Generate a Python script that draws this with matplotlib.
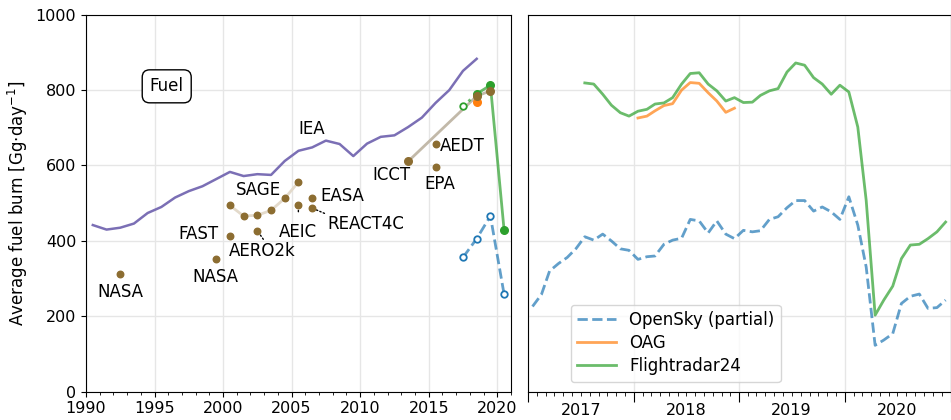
import matplotlib
matplotlib.use('Agg')
import matplotlib.pyplot as plt
import matplotlib.dates as mdates
from matplotlib.ticker import MultipleLocator, FuncFormatter
import numpy as np
import pandas as pd

plt.rcParams['font.size'] = 12
plt.rcParams['xtick.labelsize'] = 11.5
plt.rcParams['ytick.labelsize'] = 11.5

# ---- left panel: annual estimates ----
iea_years = np.arange(1990, 2019) + 0.5
iea_fuel = [442, 430, 435, 446, 474, 490, 515, 532, 545, 564, 583, 572, 577, 575,
            612, 639, 648, 666, 657, 625, 658, 676, 680, 702, 727, 766, 800, 851, 883]

sage_years = [2000.5, 2001.5, 2002.5, 2003.5, 2004.5, 2005.5]
sage_fuel = [494, 466, 468, 481, 513, 556]

icct_years = [2013.5, 2018.5, 2019.5]
icct_fuel = [611, 784, 798]

# single inventories: name, year, value
inv_names = ['NASA', 'NASA', 'FAST', 'AERO2k', 'AEIC', 'EASA', 'REACT4C', 'AEDT', 'EPA']
inv_years = [1992.5, 1999.5, 2000.5, 2002.5, 2005.5, 2006.5, 2006.5, 2015.5, 2015.5]
inv_fuel = [311, 351, 414, 427, 496, 514, 487, 657, 597]

fr24_years = [2017.5, 2018.5, 2019.5, 2020.5]
fr24_annual = [757, 790, 813, 428]
oag_year = [2018.5]
oag_annual = [768]
osky_years = [2017.5, 2018.5, 2019.5, 2020.5]
osky_annual = [356, 406, 466, 258]

# ---- right panel: monthly ----
months = pd.date_range('2017-01-01', periods=48, freq='MS') + pd.Timedelta(days=14)
osky_monthly = [226, 258, 320, 340, 356, 380, 411, 402, 418, 400, 379, 375,
                351, 358, 360, 391, 402, 407, 457, 453, 421, 453, 418, 406,
                428, 424, 427, 457, 464, 488, 507, 507, 479, 490, 477, 457,
                517, 442, 331, 123, 137, 154, 234, 253, 259, 221, 223, 243]
fr24_monthly = [819, 816, 789, 760, 740, 731, 744, 749, 763, 766, 780, 816,
                844, 846, 816, 798, 771, 780, 767, 768, 786, 798, 804, 848,
                872, 866, 833, 816, 789, 813, 795, 702, 508, 203, 243, 280,
                353, 389, 391, 406, 424, 450]
oag_monthly = [726, 731, 745, 759, 764, 800, 820, 818, 793, 771, 741, 752]

brown = '#8c6d31'
c_blue = '#1f77b4'
c_orange = '#ff7f0e'
c_green = '#2ca02c'

fig = plt.figure(figsize=(9.51, 4.2), dpi=100)
ax1 = fig.add_axes([0.0904, 0.0674, 0.4469, 0.8976])
ax2 = fig.add_axes([0.5557, 0.0674, 0.4438, 0.8976], sharey=ax1)

# left panel
ax1.plot(iea_years, iea_fuel, color='#7b6fb5', lw=1.8, zorder=3)
ax1.plot(sage_years, sage_fuel, color='#e3dacb', lw=2, zorder=2)
ax1.scatter(sage_years, sage_fuel, color=brown, s=22, zorder=4)
ax1.plot(icct_years, icct_fuel, color='#c2b9a9', lw=2, zorder=2)
ax1.scatter(icct_years, icct_fuel, color=brown, s=30, zorder=6)
ax1.scatter(inv_years, inv_fuel, color=brown, s=22, zorder=4)

ax1.plot(fr24_years[:2], fr24_annual[:2], color=c_green, alpha=0.7, lw=2, ls=':')
ax1.plot(fr24_years[1:], fr24_annual[1:], color=c_green, alpha=0.7, lw=2)
ax1.scatter(fr24_years[:1], fr24_annual[:1], facecolor='white', edgecolor=c_green,
            s=22, lw=1.3, zorder=5)
ax1.scatter(fr24_years[1:], fr24_annual[1:], color=c_green, s=30, zorder=5)
ax1.scatter(oag_year, oag_annual, color=c_orange, s=30, zorder=5)
ax1.plot(osky_years, osky_annual, color=c_blue, alpha=0.7, lw=2, ls='--')
ax1.scatter(osky_years, osky_annual, facecolor='white', edgecolor=c_blue,
            s=22, lw=1.3, zorder=5)

ax1.text(1992.5, 265, 'NASA', ha='center', va='center')
ax1.text(1999.45, 304, 'NASA', ha='center', va='center')
ax1.text(1999.7, 418, 'FAST', ha='right', va='center')
ax1.annotate('AERO2k', xy=(2002.5, 427), xytext=(2000.4, 373),
             ha='left', va='center',
             arrowprops=dict(arrowstyle='-', ls=':', color='k', shrinkA=0, shrinkB=0,
                             relpos=(0.55, 1.0)))
ax1.text(2002.6, 536, 'SAGE', ha='center', va='center')
ax1.annotate('AEIC', xy=(2005.5, 496), xytext=(2005.47, 424),
             ha='center', va='center',
             arrowprops=dict(arrowstyle='-', ls=':', color='k', shrinkA=6, shrinkB=3))
ax1.text(2007.1, 518, 'EASA', ha='left', va='center')
ax1.annotate('REACT4C', xy=(2006.5, 487), xytext=(2007.6, 446),
             ha='left', va='center',
             arrowprops=dict(arrowstyle='-', ls=':', color='k', shrinkA=0, shrinkB=3,
                             relpos=(0.0, 1.0)))
ax1.text(2012.3, 576, 'ICCT', ha='center', va='center')
ax1.text(2015.85, 652, 'AEDT', ha='left', va='center')
ax1.text(2015.8, 552, 'EPA', ha='center', va='center')
ax1.text(2006.45, 698, 'IEA', ha='center', va='center')
ax1.text(0.19, 0.81, 'Fuel', transform=ax1.transAxes, ha='center', va='center',
         bbox=dict(boxstyle='round,pad=0.45', fc='white', ec='k', lw=1))

ax1.set_xlim(1990, 2021)
ax1.set_ylim(0, 1000)
ax1.xaxis.set_major_locator(MultipleLocator(5))
ax1.xaxis.set_minor_locator(MultipleLocator(1))
ax1.yaxis.set_major_locator(MultipleLocator(200))
ax1.grid(True, color='#e6e6e6', lw=1)
ax1.set_axisbelow(True)
ax1.set_ylabel(r'Average fuel burn [Gg$\cdot$day$^{-1}$]')

# right panel
ax2.plot(months, osky_monthly, color=c_blue, alpha=0.7, lw=2, ls='--',
         label='OpenSky (partial)')
ax2.plot(months[12:24], oag_monthly, color=c_orange, alpha=0.7, lw=2, label='OAG')
ax2.plot(months[6:], fr24_monthly, color=c_green, alpha=0.7, lw=2, label='Flightradar24')

ax2.set_xlim(pd.Timestamp('2017-01-01'), pd.Timestamp('2021-01-01'))
ax2.xaxis.set_major_locator(mdates.YearLocator())
ax2.xaxis.set_major_formatter(FuncFormatter(lambda x, pos: ''))
ax2.xaxis.set_minor_locator(mdates.MonthLocator())
ax2.xaxis.set_minor_formatter(FuncFormatter(
    lambda x, pos: str(mdates.num2date(x).year) if mdates.num2date(x).month == 7 else ''))
ax2.tick_params(axis='x', which='major', length=7)
ax2.tick_params(axis='x', which='minor', length=3, pad=5)
ax2.tick_params(axis='y', left=False, labelleft=False)
ax2.grid(True, which='major', color='#e6e6e6', lw=1)
ax2.set_axisbelow(True)
ax2.legend(loc='lower left', bbox_to_anchor=(0.08, 0.004), handlelength=2.3,
           labelspacing=0.3, framealpha=0.8)

fig.savefig('out.png', dpi=100)
